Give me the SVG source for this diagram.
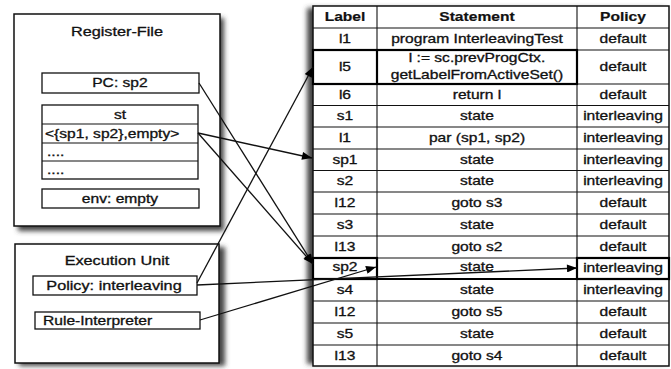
<svg xmlns="http://www.w3.org/2000/svg" width="671" height="369" viewBox="0 0 671 369">
<defs>
<filter id="blur" x="-10%" y="-10%" width="120%" height="120%"><feGaussianBlur stdDeviation="2.5"/></filter>
<marker id="ah" viewBox="0 0 10 8" refX="10" refY="4" markerWidth="12" markerHeight="8" markerUnits="userSpaceOnUse" orient="auto"><path d="M0,0 L10,4 L0,8 Z" fill="#000"/></marker>
</defs>
<style>
text{font-family:"Liberation Sans",Arial,Helvetica,sans-serif;fill:#111;stroke:#111;stroke-width:0.3;font-size:12px;text-anchor:middle;transform-box:fill-box;transform-origin:center;transform:scaleX(1.3)}
text.l{text-anchor:start;transform-origin:left center}
text.h{font-weight:bold;stroke-width:0.2}
text.tt{font-size:12.5px}
.box{fill:#fff;stroke:#111;stroke-width:1.5}
.in{fill:#fff;stroke:#111;stroke-width:1.3}
.ln{stroke:#111;stroke-width:1.1;fill:none}
.thk{fill:none;stroke:#000;stroke-width:2.2}
.sh{fill:#444;filter:url(#blur)}
.cn{stroke:#111;stroke-width:1.3;fill:none;marker-end:url(#ah)}
</style>
<!-- shadows -->
<rect class="sh" x="18" y="18" width="206" height="213"/>
<rect class="sh" x="19" y="247" width="206" height="119"/>
<rect class="sh" x="307" y="8" width="358" height="356"/>

<g id="register-file">
<rect class="box" x="14" y="14" width="206" height="212"/>
<text class="tt" x="117" y="36">Register-File</text>
<g id="pc"><rect class="in" x="42" y="73" width="157" height="20"/><text x="120" y="87.5">PC: sp2</text></g>
<g id="st">
<rect class="in" x="42" y="105" width="156" height="74"/>
<line class="ln" x1="42" y1="124" x2="198" y2="124"/>
<line class="ln" x1="42" y1="143" x2="198" y2="143"/>
<line class="ln" x1="42" y1="161" x2="198" y2="161"/>
<text x="120" y="119">st</text>
<text class="l" x="45" y="138">&lt;{sp1, sp2},empty&gt;</text>
<text class="l" x="47" y="156">....</text>
<text class="l" x="47" y="174">....</text>
</g>
<g id="env"><rect class="in" x="42" y="189" width="157" height="19"/><text x="120" y="203">env: empty</text></g>
</g>

<g id="execution-unit">
<rect class="box" x="15" y="244" width="204" height="119"/>
<text class="tt" x="117" y="265">Execution Unit</text>
<g id="policy"><rect class="in" x="33" y="276" width="164" height="19"/><text class="tt" x="114" y="290">Policy: interleaving</text></g>
<g id="rule-interpreter"><rect class="in" x="35" y="312" width="165" height="17"/><text class="l" x="43" y="325">Rule-Interpreter</text></g>
</g>

<g id="table">
<rect x="313" y="6" width="356" height="360" fill="#fff" stroke="#111" stroke-width="1.5"/>
<line class="ln" x1="377" y1="6" x2="377" y2="366"/>
<line class="ln" x1="577" y1="6" x2="577" y2="366"/>
<g class="ln">
<line x1="313" y1="28" x2="669" y2="28"/>
<line x1="313" y1="50" x2="669" y2="50"/>
<line x1="313" y1="84" x2="669" y2="84"/>
<line x1="313" y1="105.5" x2="669" y2="105.5"/>
<line x1="313" y1="127" x2="669" y2="127"/>
<line x1="313" y1="149" x2="669" y2="149"/>
<line x1="313" y1="170.5" x2="669" y2="170.5"/>
<line x1="313" y1="192" x2="669" y2="192"/>
<line x1="313" y1="214" x2="669" y2="214"/>
<line x1="313" y1="236" x2="669" y2="236"/>
<line x1="313" y1="258" x2="669" y2="258"/>
<line x1="313" y1="279" x2="669" y2="279"/>
<line x1="313" y1="301" x2="669" y2="301"/>
<line x1="313" y1="323" x2="669" y2="323"/>
<line x1="313" y1="345" x2="669" y2="345"/>
</g>
<!-- highlighted cells -->
<rect class="thk" x="313" y="50" width="264" height="34"/>
<line class="thk" x1="377" y1="50" x2="377" y2="84"/>
<rect class="thk" x="313" y="258" width="64" height="21"/>
<line class="thk" x1="377" y1="279" x2="577" y2="279"/>
<rect class="thk" x="577" y="258" width="92" height="21"/>

<g id="header">
<text class="h" x="345" y="21.5">Label</text>
<text class="h" x="477" y="21.5">Statement</text>
<text class="h" x="623" y="21.5">Policy</text>
</g>
<g id="row-l1"><text x="345" y="43.5">l1</text><text x="477" y="43.5">program InterleavingTest</text><text x="623" y="43.5">default</text></g>
<g id="row-l5"><text x="345" y="71.5">l5</text><text x="477" y="62.5">l := sc.prevProgCtx.</text><text x="477" y="79">getLabelFromActiveSet()</text><text x="623" y="71.5">default</text></g>
<g id="row-l6"><text x="345" y="99">l6</text><text x="477" y="99">return l</text><text x="623" y="99">default</text></g>
<g id="row-s1"><text x="345" y="120.5">s1</text><text x="477" y="120.5">state</text><text x="623" y="120.5">interleaving</text></g>
<g id="row-l1b"><text x="345" y="142">l1</text><text x="477" y="142">par (sp1, sp2)</text><text x="623" y="142">interleaving</text></g>
<g id="row-sp1"><text x="345" y="164">sp1</text><text x="477" y="164">state</text><text x="623" y="164">interleaving</text></g>
<g id="row-s2"><text x="345" y="185.5">s2</text><text x="477" y="185.5">state</text><text x="623" y="185.5">interleaving</text></g>
<g id="row-l12"><text x="345" y="207.5">l12</text><text x="477" y="207.5">goto s3</text><text x="623" y="207.5">default</text></g>
<g id="row-s3"><text x="345" y="229.5">s3</text><text x="477" y="229.5">state</text><text x="623" y="229.5">default</text></g>
<g id="row-l13"><text x="345" y="251.5">l13</text><text x="477" y="251.5">goto s2</text><text x="623" y="251.5">default</text></g>
<g id="row-sp2"><text x="345" y="271.5">sp2</text><text x="477" y="271.5">state</text><text x="623" y="272.5">interleaving</text></g>
<g id="row-s4"><text x="345" y="294.5">s4</text><text x="477" y="294.5">state</text><text x="623" y="294.5">interleaving</text></g>
<g id="row-l12b"><text x="345" y="316.5">l12</text><text x="477" y="316.5">goto s5</text><text x="623" y="316.5">default</text></g>
<g id="row-s5"><text x="345" y="338.5">s5</text><text x="477" y="338.5">state</text><text x="623" y="338.5">default</text></g>
<g id="row-l13b"><text x="345" y="360">l13</text><text x="477" y="360">goto s4</text><text x="623" y="360">default</text></g>
</g>

<g id="connectors">
<line class="cn" x1="199" y1="83" x2="313" y2="264"/>
<line class="cn" x1="198" y1="133" x2="312" y2="158"/>
<line class="cn" x1="198" y1="133" x2="313" y2="264"/>
<line class="cn" x1="197" y1="283" x2="313" y2="67"/>
<line class="cn" x1="197" y1="285" x2="577" y2="268"/>
<line class="cn" x1="200" y1="320" x2="376" y2="267"/>
</g>
</svg>
